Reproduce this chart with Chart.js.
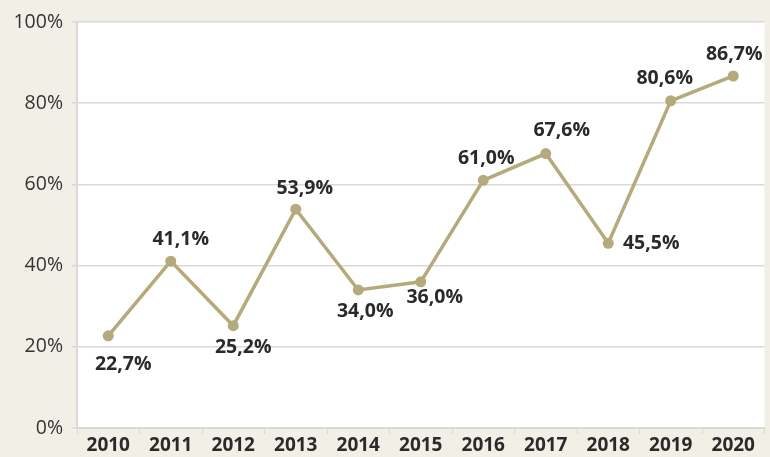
<!DOCTYPE html>
<html>
<head>
<meta charset="utf-8">
<script src="https://cdn.jsdelivr.net/npm/chart.js@4/dist/chart.umd.min.js"></script>
<style>
  html, body { margin: 0; padding: 0; background: #f2efe7; }
  #wrap { width: 770px; height: 457px; }
</style>
</head>
<body>
<div id="wrap"><canvas id="myChart" width="770" height="457"></canvas></div>
<script>
// anos y porcentajes
const years = ['2010', '2011', '2012', '2013', '2014', '2015', '2016', '2017', '2018', '2019', '2020'];
const values = [22.7, 41.1, 25.2, 53.9, 34.0, 36.0, 61.0, 67.6, 45.5, 80.6, 86.7];
const yTicks = [0, 20, 40, 60, 80, 100];

// desplazamiento de cada etiqueta respecto a su punto (dx, dy)
const labelOffsets = [
  [15, 29], [10, -22], [10, 22], [9, -21], [7, 21], [14, 16],
  [3, -22], [16, -23], [43, 0], [-6, -22], [1, -22]
];

const LINE_COLOR = '#b4aa7c';
const GRID_COLOR = '#d9d9d9';
const FONT = '"Open Sans", "Noto Sans", sans-serif';

const plotBackground = {
  id: 'plotBackground',
  beforeDraw(chart) {
    const { ctx, chartArea } = chart;
    ctx.save();
    ctx.fillStyle = '#ffffff';
    ctx.fillRect(chartArea.left, chartArea.top, chartArea.right - chartArea.left, chartArea.bottom - chartArea.top);
    ctx.restore();
  }
};

const valueLabels = {
  id: 'valueLabels',
  afterDatasetsDraw(chart) {
    const ctx = chart.ctx;
    const meta = chart.getDatasetMeta(0);
    ctx.save();
    ctx.font = 'bold 19.5px ' + FONT;
    ctx.fillStyle = '#2a2a2a';
    ctx.textAlign = 'center';
    ctx.textBaseline = 'middle';
    meta.data.forEach(function (pt, i) {
      let txt = values[i].toFixed(1).replace('.', ',') + '%';
      ctx.fillText(txt, pt.x + labelOffsets[i][0], pt.y + labelOffsets[i][1]);
    });
    ctx.restore();
  }
};

new Chart(document.getElementById('myChart').getContext('2d'), {
  type: 'line',
  data: {
    labels: years,
    datasets: [{
      data: values,
      borderColor: LINE_COLOR,
      backgroundColor: LINE_COLOR,
      borderWidth: 3.5,
      pointRadius: 5.5,
      pointBackgroundColor: LINE_COLOR,
      pointBorderWidth: 0,
      tension: 0
    }]
  },
  options: {
    responsive: false,
    animation: false,
    layout: { padding: { top: 22, right: 0, left: 0, bottom: 0 } },
    plugins: { legend: { display: false }, tooltip: { enabled: false } },
    scales: {
      x: {
        offset: true,
        grid: { offset: true, drawOnChartArea: false, drawTicks: true, tickLength: 6, color: GRID_COLOR },
        border: { color: GRID_COLOR, width: 2 },
        ticks: { font: { family: FONT, size: 19, weight: 'bold' }, color: '#2a2a2a', padding: 0, maxRotation: 0 },
        afterFit(scale) { scale.height = 29; }
      },
      y: {
        min: 0,
        max: 100,
        afterBuildTicks(scale) { scale.ticks = yTicks.map(v => ({ value: v })); },
        grid: { color: GRID_COLOR, lineWidth: 1.5, tickLength: 5 },
        border: { color: GRID_COLOR, width: 2 },
        ticks: {
          font: { family: FONT, size: 19.5 },
          color: '#333333',
          padding: 9,
          callback: v => v + '%'
        },
        afterFit(scale) { scale.width = 77; }
      }
    }
  },
  plugins: [plotBackground, valueLabels]
});
</script>
</body>
</html>
